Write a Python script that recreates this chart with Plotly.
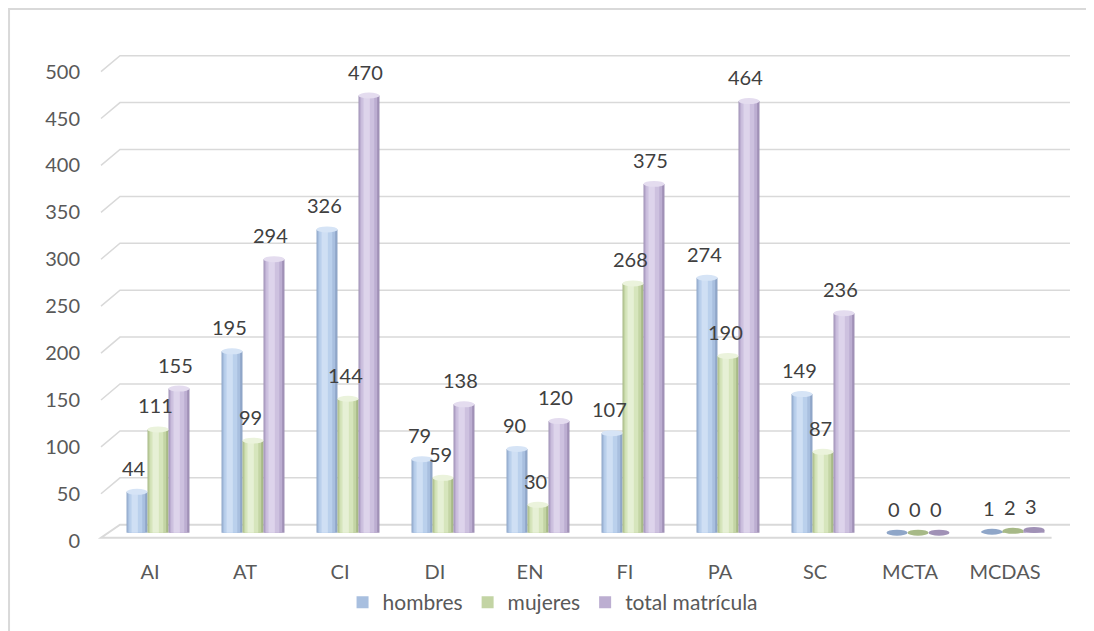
import plotly.graph_objects as go

categories = ["AI", "AT", "CI", "DI", "EN", "FI", "PA", "SC", "MCTA", "MCDAS"]
hombres = [44, 195, 326, 79, 90, 107, 274, 149, 0, 1]
mujeres = [111, 99, 144, 59, 30, 268, 190, 87, 0, 2]
total_matricula = [155, 294, 470, 138, 120, 375, 464, 236, 0, 3]
series_names = ["hombres", "mujeres", "total matrícula"]
y_ticks = list(range(0, 501, 50))

FONT = "Lato"
TEXT = "#595959"
GRID = "#d9d9d9"
BAR_W = 0.221  # one bar, in category units
PX_PER_CAT = 95

# shades from edge to highlight, fakes the cylinder look
palettes = [
    ["#8fa6c8", "#a8bfdf", "#bad0ec", "#cfdff4"],
    ["#a7b987", "#c3d4a4", "#d6e5bc", "#e6f0d5"],
    ["#a091b6", "#bcaed1", "#cdc1df", "#ddd4eb"],
]
caps = ["#d6e4f6", "#ebf3dc", "#e4dcef"]
layers = [(0.0, 1.0), (0.05, 0.84), (0.13, 0.62), (0.24, 0.3)]

values = [hombres, mujeres, total_matricula]

fig = go.Figure()

for k, (name, vals) in enumerate(zip(series_names, values)):
    base = -1.5 * BAR_W + k * BAR_W
    for j, (off, frac) in enumerate(layers):
        fig.add_trace(
            go.Bar(
                x=categories,
                y=vals,
                name=name,
                offset=base + off * BAR_W,
                width=frac * BAR_W,
                marker=dict(color=palettes[k][j], line=dict(width=0)),
                showlegend=(j == 1),
                legendgroup=name,
                hoverinfo="skip" if j else None,
            )
        )

# cylinder caps and value labels
shapes = []
annotations = []
for k, vals in enumerate(values):
    base = -1.5 * BAR_W + k * BAR_W
    for i, v in enumerate(vals):
        shapes.append(
            dict(
                type="circle",
                xref="x",
                yref="y",
                x0=i + base,
                x1=i + base + BAR_W,
                y0=v - 3.2,
                y1=v + 3.2,
                fillcolor=caps[k] if v > 5 else palettes[k][0],
                line=dict(width=0),
                layer="above",
            )
        )
        annotations.append(
            dict(
                x=categories[i],
                y=v,
                xref="x",
                yref="y",
                text=str(v),
                showarrow=False,
                xshift=(k - 1) * BAR_W * PX_PER_CAT - 3,
                yshift=24,
                font=dict(family=FONT, size=20, color="#404040"),
            )
        )

# back gridlines with the little 3d kink at the left
for v in y_ticks[1:]:
    shapes.append(
        dict(
            type="path",
            xref="paper",
            yref="y2",
            path=f"M 0,{v} L 0.0196,{v + 17} L 1,{v + 17}",
            line=dict(color=GRID, width=1.5),
            layer="below",
        )
    )
# floor
shapes.append(
    dict(
        type="path",
        xref="paper",
        yref="y2",
        path="M 0.981,3.2 L 0,3.2 L 0.0196,17 L 1,17",
        line=dict(color=GRID, width=2),
        layer="below",
    )
)
# chart border, only its left and top edges show
shapes.append(
    dict(
        type="path",
        xref="paper",
        yref="paper",
        path="M -0.0949,-0.3 L -0.0949,1.0811 L 1.2,1.0811",
        line=dict(color=GRID, width=2),
        layer="below",
    )
)

# page body has an 8px margin, so the margins are pulled in by 8
fig.update_layout(
    width=1094,
    height=631,
    margin=dict(l=93, r=32, t=41, b=97),
    barmode="overlay",
    plot_bgcolor="white",
    paper_bgcolor="white",
    font=dict(family=FONT, size=20, color=TEXT),
    shapes=shapes,
    annotations=annotations,
    legend=dict(
        orientation="h",
        x=0.466,
        xanchor="center",
        y=-0.123,
        yanchor="middle",
        font=dict(size=21, color=TEXT),
        itemwidth=30,
        traceorder="normal",
    ),
    xaxis=dict(
        range=[-0.6, 9.6],
        showgrid=False,
        zeroline=False,
        showline=False,
        ticks="",
        ticklabelshift=-8,
        ticklabelstandoff=16,
        tickfont=dict(size=20, color=TEXT),
    ),
    yaxis=dict(
        range=[-10, 520],
        showgrid=False,
        zeroline=False,
        showticklabels=False,
    ),
    yaxis2=dict(
        overlaying="y",
        anchor="x",
        side="left",
        range=[-1.4, 524.1],
        tickvals=y_ticks,
        showgrid=False,
        zeroline=False,
        showline=False,
        ticks="",
        ticklabelstandoff=20,
        tickfont=dict(size=20, color=TEXT),
    ),
)

fig.write_html("out.html")
